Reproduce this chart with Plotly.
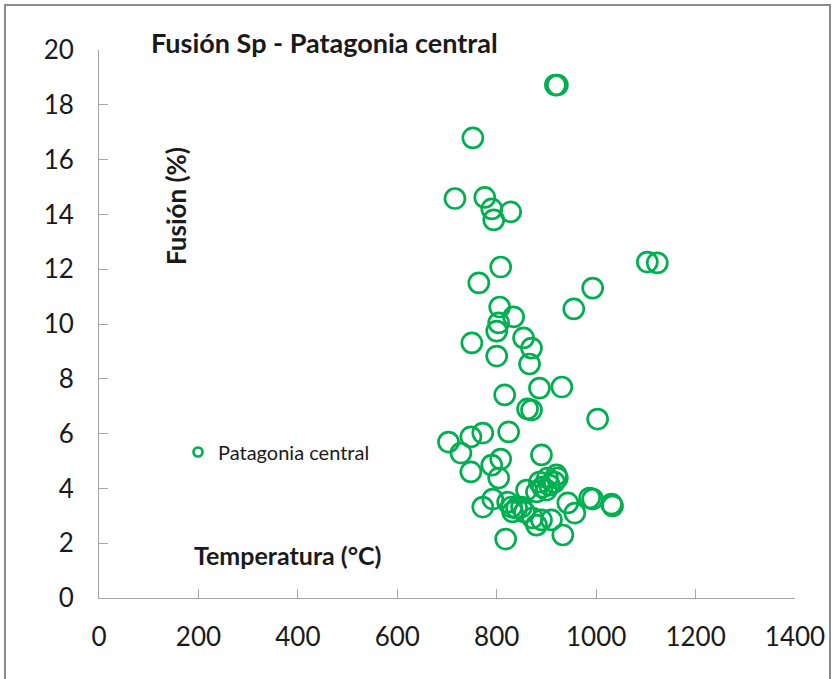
import plotly.graph_objects as go

temperatura = [918, 922, 752, 716, 776, 790, 794, 828, 1103, 1123,
               808, 764, 993, 806, 955, 834, 804, 800, 854, 750,
               870, 800, 866, 816, 886, 931, 862, 870, 1003, 703,
               748, 772, 824, 728, 890, 790, 808, 748, 804, 886,
               902, 920, 922, 892, 906, 916, 880, 900, 860, 772,
               792, 822, 830, 840, 832, 850, 856, 943, 957, 987,
               993, 1031, 1033, 872, 890, 910, 880, 933, 818]
fusion = [18.72, 18.72, 16.79, 14.58, 14.62, 14.20, 13.80, 14.09, 12.26, 12.23,
          12.08, 11.50, 11.31, 10.62, 10.55, 10.26, 10.04, 9.74, 9.49, 9.31,
          9.12, 8.83, 8.54, 7.41, 7.66, 7.70, 6.90, 6.86, 6.53, 5.69,
          5.88, 6.02, 6.06, 5.29, 5.22, 4.85, 5.07, 4.60, 4.38, 4.23,
          4.38, 4.49, 4.38, 4.05, 4.12, 4.23, 3.87, 3.94, 3.94, 3.32,
          3.61, 3.50, 3.32, 3.28, 3.14, 3.32, 3.14, 3.47, 3.10, 3.65,
          3.61, 3.43, 3.36, 2.92, 2.85, 2.85, 2.66, 2.30, 2.15]

series_name = "Patagonia central"
title_text = "Fusión Sp - Patagonia central"
x_title = "Temperatura (°C)"
y_title = "Fusión (%)"
x_ticks = [0, 200, 400, 600, 800, 1000, 1200, 1400]
y_ticks = [0, 2, 4, 6, 8, 10, 12, 14, 16, 18, 20]

GREEN = "#00B050"
FONT = "Lato"
TXT = "#1a1a1a"
W, H = 833, 679
L, R, T, B = 99, 38, 50, 81
PW, PH = W - L - R, H - T - B


def px_x(p):
    return (p - L) / PW


def px_y(p):
    return (H - B - p) / PH


fig = go.Figure()
fig.add_trace(go.Scatter(
    x=temperatura, y=fusion, mode="markers", name=series_name, showlegend=False,
    marker=dict(symbol="circle-open", size=20, color=GREEN, line=dict(width=2.7, color=GREEN)),
))
fig.add_trace(go.Scatter(
    x=[None], y=[None], mode="markers", name=series_name, showlegend=True,
    marker=dict(symbol="circle-open", size=9, color=GREEN, line=dict(width=2.7, color=GREEN)),
))

axis_common = dict(
    showgrid=False, zeroline=False, showline=True, linecolor="#A6A6A6", linewidth=1,
    ticks="inside", ticklen=9, tickcolor="#A6A6A6", tickwidth=1, automargin=False,
    tickfont=dict(family=FONT, size=26, color=TXT),
)
fig.update_xaxes(range=[0, 1400], tickvals=x_ticks, ticktext=[str(v) for v in x_ticks],
                 ticklabelstandoff=16, **axis_common)
fig.update_yaxes(range=[0, 20], tickvals=y_ticks, ticktext=[str(v) for v in y_ticks],
                 ticklabelstandoff=19, **axis_common)

fig.update_layout(
    width=W, height=H, margin=dict(l=L, r=R, t=T, b=B, autoexpand=False),
    paper_bgcolor="white", plot_bgcolor="white",
    showlegend=True,
    legend=dict(x=px_x(178), y=px_y(452), xanchor="left", yanchor="middle",
                bgcolor="rgba(0,0,0,0)", font=dict(family=FONT, size=20, color=TXT),
                itemwidth=30, tracegroupgap=0),
    annotations=[
        dict(text=f"<b>{title_text}</b>", xref="paper", yref="paper", x=px_x(149), y=px_y(42),
             xanchor="left", yanchor="middle", showarrow=False,
             font=dict(family=FONT, size=27, color=TXT)),
        dict(text=f"<b>{y_title}</b>", xref="paper", yref="paper", x=px_x(176), y=px_y(206),
             xanchor="center", yanchor="middle", showarrow=False, textangle=-90,
             font=dict(family=FONT, size=26, color=TXT)),
        dict(text=f"<b>{x_title}</b>", xref="paper", yref="paper", x=px_x(192), y=px_y(555),
             xanchor="left", yanchor="middle", showarrow=False,
             font=dict(family=FONT, size=25, color=TXT)),
    ],
    shapes=[dict(type="rect", xref="paper", yref="paper",
                 x0=px_x(5), x1=px_x(830), y0=px_y(690), y1=px_y(5),
                 line=dict(color="#8C8C8C", width=2), fillcolor="rgba(0,0,0,0)", layer="below")],
)

fig.write_html("out.html")
